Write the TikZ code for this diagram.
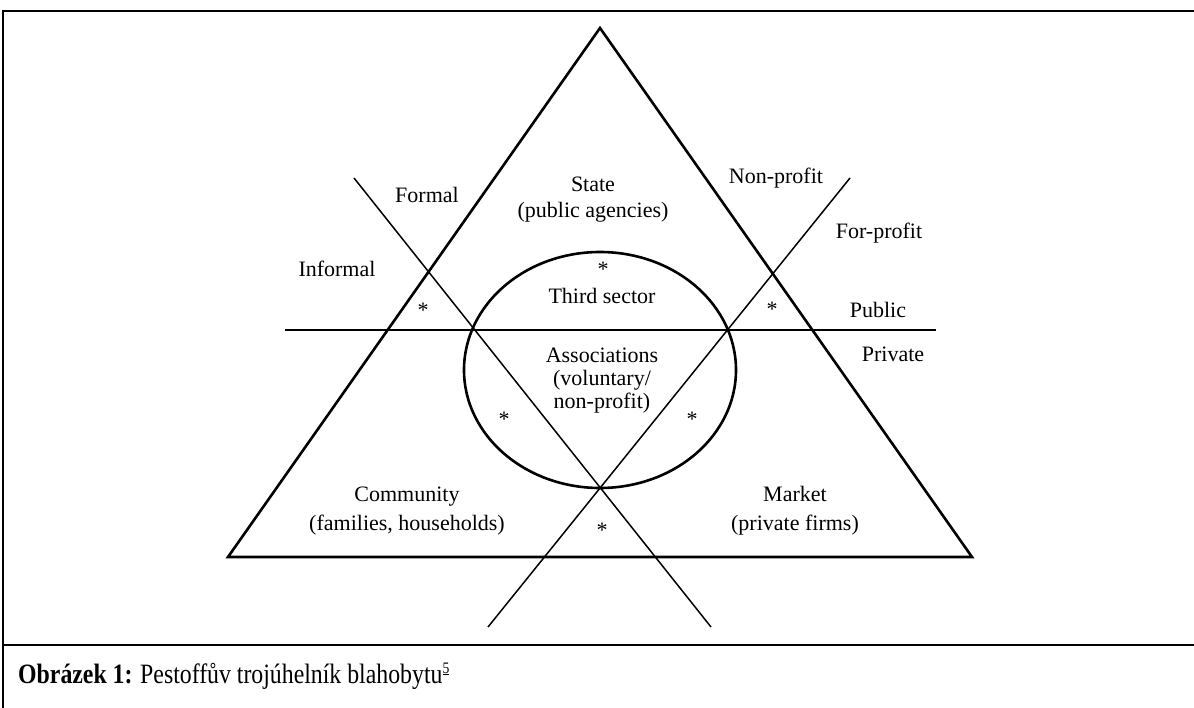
\documentclass[tikz,border=0pt]{standalone}
\usepackage{fontspec}
\setmainfont{Liberation Serif}
\begin{document}
\begin{tikzpicture}[x=1pt,y=-1pt,
  lbl/.style={font=\fontsize{22}{26}\selectfont, inner sep=0pt, align=center},
  lblb/.style={font=\fontsize{22}{23}\selectfont, inner sep=0pt, align=center},
  lblc/.style={font=\fontsize{22}{29}\selectfont, inner sep=0pt, align=center},
  ast/.style={font=\fontsize{22}{26}\selectfont, inner sep=0pt, anchor=base},
  frameline/.style={line width=2.5pt},
  triline/.style={line width=2.6pt, line join=miter},
  divline/.style={line width=1.5pt},
  hline/.style={line width=2pt}]
\useasboundingbox (0,0) rectangle (1194,708);
\fill[white] (0,0) rectangle (1194,708);
% frame
\coordinate (FTR) at (1196,11);
\coordinate (FTL) at (3,11);
\coordinate (FBL) at (3,710);
\coordinate (SL) at (3,645);
\coordinate (SR) at (1196,645);
\draw[frameline] (FTR) -- (FTL) -- (FBL);
\draw[frameline] (SL) -- (SR);
% triangle
\coordinate (A) at (600,28);
\coordinate (BL) at (228,557);
\coordinate (BR) at (972,557);
\draw[triline] (A) -- (BL) -- (BR) -- cycle;
% dividing lines
\coordinate (H1) at (285,330);
\coordinate (H2) at (936,330);
\coordinate (L1a) at (354,178);
\coordinate (L1b) at (711,627);
\coordinate (L2a) at (850,178);
\coordinate (L2b) at (488,627);
\draw[hline] (H1) -- (H2);
\draw[divline] (L1a) -- (L1b);
\draw[divline] (L2a) -- (L2b);
% third sector ellipse
\coordinate (C) at (600,370);
\draw[line width=2.6pt] (C) ellipse [x radius=136, y radius=118];
% labels
\node[lbl] (formal) at (427,195) {Formal};
\node[lbl] (informal) at (337,269) {Informal};
\node[lbl] (state) at (593,200) {State\\(public agencies)};
\node[lbl] (nonprofit) at (776,178) {Non-profit};
\node[lbl] (forprofit) at (879,233) {For-profit};
\node[lbl] (public) at (878,310) {Public};
\node[lbl] (private) at (893,354) {Private};
\node[lbl] (third) at (602,296) {Third sector};
\node[lblb] (assoc) at (602,381) {Associations\\(voluntary/\\non-profit)};
\node[lblc] (community) at (407,511) {Community\\(families, households)};
\node[lblc] (market) at (795,511) {Market\\(private firms)};
% asterisks
\node[ast] (s1) at (423,318) {*};
\node[ast] (s2) at (603,277) {*};
\node[ast] (s3) at (772,317) {*};
\node[ast] (s4) at (504,427) {*};
\node[ast] (s5) at (692,427) {*};
\node[ast] (s6) at (602,537) {*};
% caption
\node[anchor=base west, inner sep=0pt, font=\fontsize{28}{32}\selectfont] (cap) at (18,683)
  {\scalebox{0.85}[1]{\textbf{Obrázek 1:}\hspace{9pt}Pestoffův trojúhelník blahobytu\raisebox{10pt}{\fontsize{16}{18}\selectfont\underline{5}}}};
\end{tikzpicture}
\end{document}
